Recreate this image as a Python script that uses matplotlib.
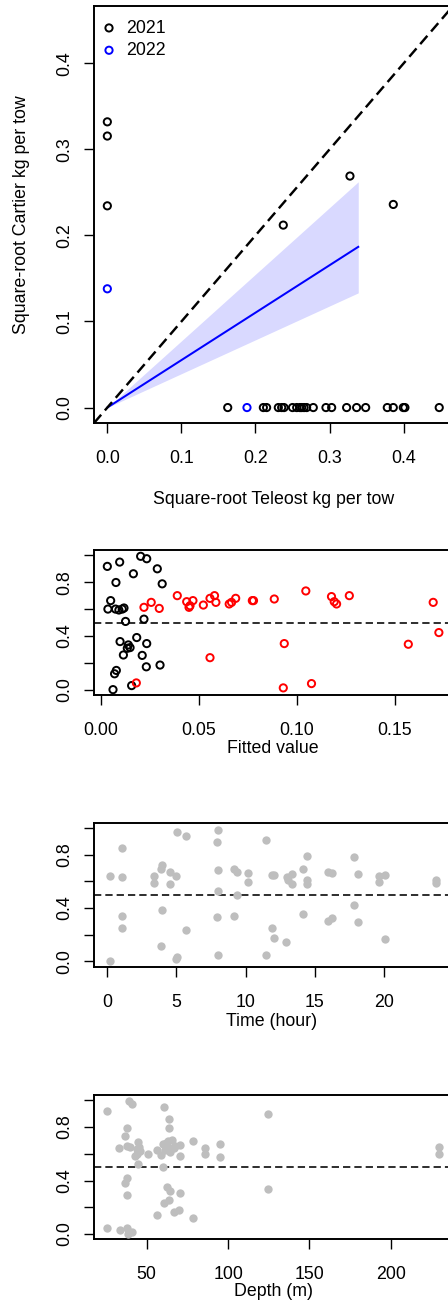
import numpy as np
import matplotlib
matplotlib.use("Agg")
import matplotlib.pyplot as plt

plt.rcParams['font.family'] = ['Liberation Sans', 'DejaVu Sans']
plt.rcParams['font.size'] = 12.8
plt.rcParams['lines.scale_dashes'] = False

# ---------------- data ----------------
year_labels = ["2021", "2022"]

# square-root catch per tow, Teleost (x) vs Cartier (y)
teleost_2021 = [0.0, 0.0, 0.0, 0.2375, 0.3275, 0.386,
                0.1625, 0.2106, 0.215, 0.2308, 0.2353, 0.2385, 0.250, 0.2556,
                0.260, 0.2623, 0.2655, 0.269, 0.278, 0.2951, 0.3028, 0.323,
                0.3365, 0.3487, 0.3779, 0.386, 0.3995, 0.4017, 0.448]
cartier_2021 = [0.332, 0.3155, 0.2344, 0.212, 0.269, 0.236,
                0.0, 0.0, 0.0, 0.0, 0.0, 0.0, 0.0, 0.0,
                0.0, 0.0, 0.0, 0.0, 0.0, 0.0, 0.0, 0.0,
                0.0, 0.0, 0.0, 0.0, 0.0, 0.0, 0.0]
teleost_2022 = [0.0, 0.1885]
cartier_2022 = [0.138, 0.0]

# conversion fit through the origin with its confidence band
fit_slope = 0.5513
fit_slope_lower = 0.3935
fit_slope_upper = 0.7745
fit_x_max = 0.3387

# scaled residuals vs fitted values
fitted_black = [0.0034, 0.0097, 0.0204, 0.0235, 0.0289, 0.0167, 0.0078, 0.0314,
                0.0051, 0.0037, 0.0076, 0.0093, 0.0110, 0.0119, 0.0127, 0.0221,
                0.0099, 0.0184, 0.0235, 0.0141, 0.0150, 0.0136, 0.0116, 0.0212,
                0.0233, 0.0303, 0.0080, 0.0071, 0.0063, 0.0158]
resid_black = [0.918, 0.950, 0.993, 0.975, 0.900, 0.863, 0.798, 0.788,
               0.663, 0.600, 0.600, 0.593, 0.600, 0.608, 0.508, 0.525,
               0.358, 0.388, 0.343, 0.333, 0.313, 0.308, 0.258, 0.255,
               0.170, 0.183, 0.143, 0.118, 0.000, 0.030]
fitted_red = [0.0221, 0.0258, 0.0299, 0.0391, 0.0439, 0.0471, 0.0451, 0.0456,
              0.0524, 0.0558, 0.0581, 0.0588, 0.0558, 0.0182, 0.0656, 0.0668,
              0.0689, 0.0774, 0.0780, 0.0886, 0.1047, 0.1178, 0.1192, 0.1204,
              0.1269, 0.1697, 0.1726, 0.1570, 0.0937, 0.0932, 0.1076]
resid_red = [0.613, 0.650, 0.605, 0.700, 0.655, 0.663, 0.613, 0.625,
             0.630, 0.680, 0.700, 0.650, 0.238, 0.050, 0.638, 0.650,
             0.680, 0.663, 0.663, 0.675, 0.735, 0.693, 0.655, 0.638,
             0.700, 0.650, 0.425, 0.338, 0.343, 0.013, 0.045]

# scaled residuals vs time of tow
time_hour = [0.22, 1.06, 1.06, 1.11, 1.06, 0.22,
             5.03, 5.68, 3.94, 3.87, 3.39, 3.39, 4.55, 5.00, 4.55, 3.94, 5.68, 3.87, 5.03, 5.00,
             8.01, 7.96, 8.01, 8.01, 7.96, 8.03,
             9.16, 9.40, 9.16, 9.40, 10.20, 10.20,
             11.49, 11.88, 12.05, 11.88, 12.05, 11.45,
             12.92, 12.96, 13.08, 13.33, 13.33,
             14.45, 14.16, 14.41, 14.41, 14.16,
             15.97, 16.21, 15.97, 16.21,
             17.84, 18.08, 17.84, 18.08,
             19.65, 19.65, 20.08, 20.08,
             23.74, 23.74]
resid_time = [0.644, 0.854, 0.636, 0.342, 0.253, 0.000,
              0.971, 0.941, 0.726, 0.693, 0.644, 0.589, 0.674, 0.639, 0.577, 0.384, 0.235, 0.119, 0.030, 0.020,
              0.986, 0.892, 0.686, 0.525, 0.334, 0.045,
              0.693, 0.674, 0.342, 0.500, 0.661, 0.599,
              0.911, 0.649, 0.645, 0.253, 0.178, 0.050,
              0.149, 0.632, 0.607, 0.582, 0.656,
              0.788, 0.693, 0.607, 0.582, 0.354,
              0.669, 0.661, 0.305, 0.322,
              0.785, 0.656, 0.421, 0.297,
              0.639, 0.594, 0.651, 0.168,
              0.607, 0.587]

# scaled residuals vs depth
depth_m = [25.8, 39.1, 41.2, 60.6, 63.7, 63.7, 37.7, 36.7, 33.0, 37.7,
           44.9, 44.3, 44.3, 42.6, 50.8, 56.5, 58.6,
           60.2, 63.1, 63.7, 64.3, 66.8, 70.3, 70.5,
           78.5, 85.8, 85.8, 94.8, 94.8, 124.6, 124.6,
           44.9, 60.2, 37.7, 36.7, 37.7, 62.7, 64.3, 70.5,
           60.6, 63.7, 66.8, 69.6, 56.5, 78.5,
           25.8, 33.4, 37.7, 41.2, 38.5,
           229.9, 229.9,
           62.0, 65.5, 67.5, 61.5, 45.5, 40.0, 46.0]
resid_depth = [0.917, 0.992, 0.972, 0.947, 0.860, 0.792, 0.790, 0.735, 0.640, 0.655,
               0.690, 0.635, 0.597, 0.585, 0.597, 0.627, 0.590,
               0.672, 0.697, 0.647, 0.617, 0.647, 0.667, 0.585,
               0.697, 0.642, 0.597, 0.677, 0.577, 0.897, 0.335,
               0.522, 0.502, 0.422, 0.378, 0.293, 0.352, 0.322, 0.303,
               0.235, 0.253, 0.168, 0.178, 0.143, 0.118,
               0.048, 0.028, 0.048, 0.018, 0.003,
               0.652, 0.602,
               0.680, 0.700, 0.655, 0.630, 0.650, 0.650, 0.620]

# ---------------- layout helpers ----------------
W, H = 448, 1308
fig = plt.figure(figsize=(W / 100, H / 100), dpi=100)
fig.patch.set_facecolor('white')


def add_axes_px(left, top, right, bottom):
    return fig.add_axes([left / W, 1 - bottom / H, (right - left) / W, (bottom - top) / H])


def style_axes(ax):
    for sp in ax.spines.values():
        sp.set_linewidth(1.4)
        sp.set_color('black')
    ax.tick_params(direction='out', length=7.5, width=1.0, colors='black',
                   top=False, right=False, labelsize=12.8)
    ax.tick_params(axis='x', pad=12.0)
    ax.tick_params(axis='y', pad=7.6, labelrotation=90)


def rotate_ylabels(ax):
    plt.setp(ax.get_yticklabels(), rotation=90, va='center', ha='right')


def fig_label(x, y, s, **kw):
    fig.text(x / W, 1 - y / H, s, ha='center', va='center', fontsize=12.8, **kw)


open_kw = dict(s=27, facecolors='none', linewidths=1.4, zorder=4)
gray_kw = dict(s=36, color='#BEBEBE', linewidths=0, zorder=4)
resid_dash = dict(color='black', lw=1.15, dashes=(5.25, 2.9), zorder=3)

# ---------------- panel 1: Cartier vs Teleost ----------------
ax1 = add_axes_px(94, 6, 453, 423.3)
style_axes(ax1)
ax1.set_xlim(-0.018, 0.4666)
ax1.set_ylim(-0.0183, 0.4666)

xf = np.linspace(0.0, fit_x_max, 50)
ax1.fill_between(xf, fit_slope_lower * xf, fit_slope_upper * xf,
                 color='#D9D9FF', lw=0, zorder=1)
ax1.plot(xf, fit_slope * xf, color='#0000FF', lw=1.45, zorder=2)
ax1.axline((0, 0), slope=1, color='black', lw=1.75, dashes=(7.9, 4.1), zorder=3)

ax1.scatter(teleost_2021, cartier_2021, edgecolors='black', label=year_labels[0], **open_kw)
ax1.scatter(teleost_2022, cartier_2022, edgecolors='#0000FF', label=year_labels[1], **open_kw)

ax1.set_xticks([0.0, 0.1, 0.2, 0.3, 0.4], ['0.0', '0.1', '0.2', '0.3', '0.4'])
ax1.set_yticks([0.0, 0.1, 0.2, 0.3, 0.4], ['0.0', '0.1', '0.2', '0.3', '0.4'])
rotate_ylabels(ax1)

leg = ax1.legend(loc='upper left', bbox_to_anchor=(7.9 / 359, 1 - 13.6 / 417.3),
                 borderaxespad=0, borderpad=0, handlelength=0.8, handletextpad=0.56,
                 labelspacing=0.3, frameon=False, scatterpoints=1, fontsize=12.8)

fig_label(273.5, 499, 'Square-root Teleost kg per tow')
fig_label(21.5, 214.6, 'Square-root Cartier kg per tow', rotation=90)

# ---------------- residual panels ----------------
res_ticks = [0.0, 0.2, 0.4, 0.6, 0.8, 1.0]
res_labels = ['0.0', '', '0.4', '', '0.8', '']

ax2 = add_axes_px(94, 550, 452, 695)
style_axes(ax2)
ax2.set_xlim(-0.0034, 0.1793)
ax2.set_ylim(-0.04, 1.04)
ax2.axhline(0.5, **resid_dash)
ax2.scatter(fitted_black, resid_black, edgecolors='black', **open_kw)
ax2.scatter(fitted_red, resid_red, edgecolors='#FF0000', **open_kw)
ax2.set_xticks([0.0, 0.05, 0.10, 0.15], ['0.00', '0.05', '0.10', '0.15'])
ax2.set_yticks(res_ticks, res_labels)
rotate_ylabels(ax2)
fig_label(273, 748.7, 'Fitted value')

ax3 = add_axes_px(94, 822.7, 450, 966.7)
style_axes(ax3)
ax3.set_xlim(-0.94, 24.75)
ax3.set_ylim(-0.04, 1.04)
ax3.axhline(0.5, **resid_dash)
ax3.scatter(time_hour, resid_time, **gray_kw)
ax3.set_xticks([0, 5, 10, 15, 20], ['0', '5', '10', '15', '20'])
ax3.set_yticks(res_ticks, res_labels)
rotate_ylabels(ax3)
fig_label(272, 1021.5, 'Time (hour)')

ax4 = add_axes_px(94, 1095, 452, 1239.3)
style_axes(ax4)
ax4.set_xlim(17.6, 237.6)
ax4.set_ylim(-0.04, 1.04)
ax4.axhline(0.5, **resid_dash)
ax4.scatter(depth_m, resid_depth, **gray_kw)
ax4.set_xticks([50, 100, 150, 200], ['50', '100', '150', '200'])
ax4.set_yticks(res_ticks, res_labels)
rotate_ylabels(ax4)
fig_label(273, 1292, 'Depth (m)')

fig.savefig('out.png', dpi=100)
